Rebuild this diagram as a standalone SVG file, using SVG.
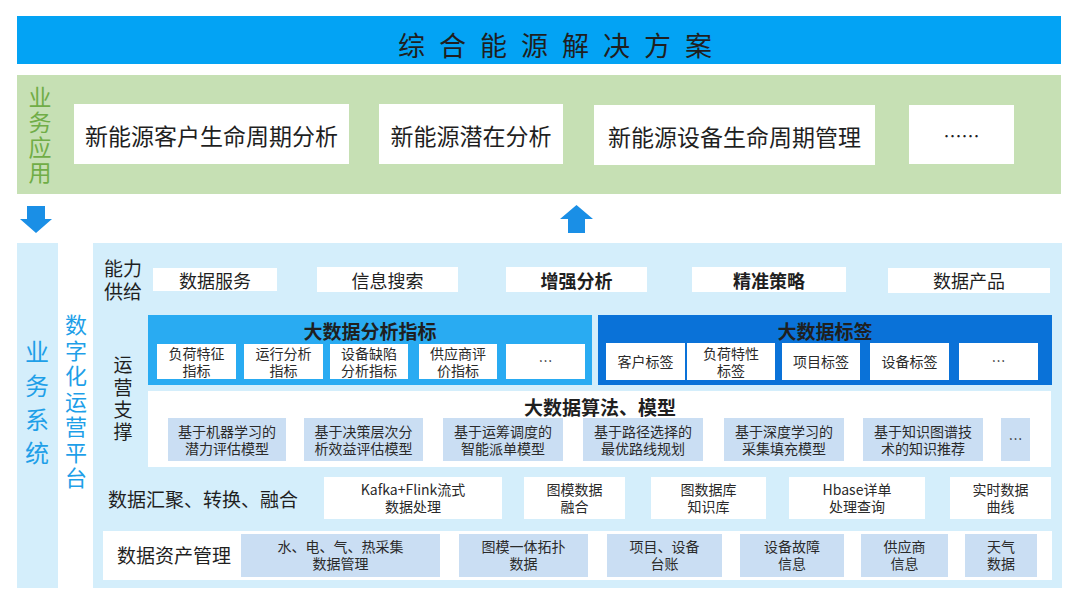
<svg xmlns="http://www.w3.org/2000/svg" width="1080" height="605" viewBox="0 0 1080 605">
<defs>
<style>
text{font-family:"Noto Sans CJK SC","Noto Sans",sans-serif;fill:#1f1f1f;dominant-baseline:central;text-anchor:middle}
.vt{writing-mode:vertical-rl;text-anchor:start}
.wbox{fill:#ffffff}
.lb{fill:#d4eefb}
.sb{fill:#cadef3}
.app{font-size:23px}
.cap{font-size:18px}
.lab{font-size:19px}
.hd{font-size:19px;font-weight:bold}
.sm{font-size:14px;fill:#2a2a2a}
.vg{font-size:23px;fill:#70ad47}
.vb{fill:#1e9fe8}
.arrow{fill:#1a8fe6}
</style>
</defs>
<rect width="1080" height="605" fill="#ffffff"/>

<g id="title">
<rect x="17" y="16" width="1044" height="48" fill="#03a3f4"/>
<text x="398" y="44" style="font-size:27px;text-anchor:start;letter-spacing:14px">综合能源解决方案</text>
</g>

<g id="business-apps">
<rect x="17" y="75" width="1044" height="119" fill="#c6e0b4"/>
<text class="vg vt" x="40" y="85.5" style="letter-spacing:2px">业务应用</text>
</g>
<g id="app1"><rect class="wbox" x="74" y="104" width="275" height="60"/><text class="app" x="211.5" y="135">新能源客户生命周期分析</text></g>
<g id="app2"><rect class="wbox" x="379" y="104" width="184" height="60"/><text class="app" x="471" y="135">新能源潜在分析</text></g>
<g id="app3"><rect class="wbox" x="594" y="105" width="281" height="60"/><text class="app" x="734.5" y="136">新能源设备生命周期管理</text></g>
<g id="app4"><rect class="wbox" x="909" y="105" width="105" height="59"/><text class="app" x="961.5" y="135" style="font-size:18px">……</text></g>

<g id="connectors">
<path class="arrow" d="M27,206 H45 V219 H52 L36,233 L20,219 H27 Z"/>
<path class="arrow" d="M568,233 H585 V219 H593 L576.5,205 L560,219 H568 Z"/>
</g>

<g id="business-system">
<rect class="lb" x="17" y="243" width="41" height="345"/>
<text class="vb vt" x="37" y="340" style="font-size:24px;letter-spacing:9.7px">业务系统</text>
</g>

<g id="digital-platform">
<text class="vb vt" x="76" y="314" style="font-size:22px;letter-spacing:3.5px">数字化运营平台</text>
</g>

<g id="platform-panel">
<rect class="lb" x="93" y="243" width="969" height="345"/>
</g>

<g id="capability">
<text class="lab" x="123" y="267">能力<tspan x="123" dy="23">供给</tspan></text>
</g>
<g id="cap1"><rect class="wbox" x="153" y="268" width="124" height="23"/><text class="cap" x="215" y="280">数据服务</text></g>
<g id="cap2"><rect class="wbox" x="317" y="267" width="141" height="25"/><text class="cap" x="387.5" y="280">信息搜索</text></g>
<g id="cap3"><rect class="wbox" x="506" y="267" width="141" height="25"/><text class="cap" x="576.5" y="280" font-weight="bold">增强分析</text></g>
<g id="cap4"><rect class="wbox" x="692" y="267" width="154" height="25"/><text class="cap" x="769" y="280" font-weight="bold">精准策略</text></g>
<g id="cap5"><rect class="wbox" x="888" y="268" width="162" height="25"/><text class="cap" x="969" y="280">数据产品</text></g>

<g id="ops-support">
<text class="lab vt" x="123" y="355.5" style="letter-spacing:3.3px">运营支撑</text>
</g>

<g id="analysis-indicators">
<rect x="148" y="315" width="444" height="70" fill="#29abf2"/>
<text class="hd" x="370" y="330">大数据分析指标</text>
</g>
<g id="ind1"><rect class="wbox" x="157" y="344" width="79" height="35"/><text class="sm" x="196.5" y="353">负荷特征<tspan x="196.5" dy="17">指标</tspan></text></g>
<g id="ind2"><rect class="wbox" x="244" y="344" width="79" height="35"/><text class="sm" x="283.5" y="353">运行分析<tspan x="283.5" dy="17">指标</tspan></text></g>
<g id="ind3"><rect class="wbox" x="330" y="344" width="78" height="35"/><text class="sm" x="369" y="353">设备缺陷<tspan x="369" dy="17">分析指标</tspan></text></g>
<g id="ind4"><rect class="wbox" x="419" y="344" width="78" height="35"/><text class="sm" x="458" y="353">供应商评<tspan x="458" dy="17">价指标</tspan></text></g>
<g id="ind5"><rect class="wbox" x="506" y="344" width="79" height="35"/><text class="sm" x="545.5" y="360">…</text></g>

<g id="data-tags">
<rect x="598" y="315" width="454" height="70" fill="#0a72d8"/>
<text class="hd" x="825" y="330">大数据标签</text>
</g>
<g id="tag1"><rect class="wbox" x="606" y="343" width="79" height="37"/><text class="sm" x="645.5" y="361">客户标签</text></g>
<g id="tag2"><rect class="wbox" x="687" y="343" width="88" height="37"/><text class="sm" x="731" y="353">负荷特性<tspan x="731" dy="17">标签</tspan></text></g>
<g id="tag3"><rect class="wbox" x="782" y="343" width="78" height="37"/><text class="sm" x="821" y="361">项目标签</text></g>
<g id="tag4"><rect class="wbox" x="870" y="343" width="79" height="37"/><text class="sm" x="909.5" y="361">设备标签</text></g>
<g id="tag5"><rect class="wbox" x="959" y="343" width="79" height="37"/><text class="sm" x="998.5" y="360">…</text></g>

<g id="algorithms">
<rect class="wbox" x="148" y="391" width="903" height="76"/>
<text class="hd" x="600" y="406">大数据算法、模型</text>
</g>
<g id="alg1"><rect class="sb" x="168" y="418" width="118" height="43"/><text class="sm" x="227" y="431">基于机器学习的<tspan x="227" dy="17">潜力评估模型</tspan></text></g>
<g id="alg2"><rect class="sb" x="304" y="418" width="119" height="43"/><text class="sm" x="363.5" y="431">基于决策层次分<tspan x="363.5" dy="17">析效益评估模型</tspan></text></g>
<g id="alg3"><rect class="sb" x="443" y="418" width="120" height="43"/><text class="sm" x="503" y="431">基于运筹调度的<tspan x="503" dy="17">智能派单模型</tspan></text></g>
<g id="alg4"><rect class="sb" x="583" y="418" width="120" height="43"/><text class="sm" x="643" y="431">基于路径选择的<tspan x="643" dy="17">最优路线规划</tspan></text></g>
<g id="alg5"><rect class="sb" x="724" y="418" width="120" height="43"/><text class="sm" x="784" y="431">基于深度学习的<tspan x="784" dy="17">采集填充模型</tspan></text></g>
<g id="alg6"><rect class="sb" x="863" y="418" width="120" height="43"/><text class="sm" x="923" y="431">基于知识图谱技<tspan x="923" dy="17">术的知识推荐</tspan></text></g>
<g id="alg7"><rect class="sb" x="1001" y="418" width="29" height="43"/><text class="sm" x="1015.5" y="438">…</text></g>

<g id="aggregation">
<text class="lab" x="108" y="498" style="text-anchor:start">数据汇聚、转换、融合</text>
</g>
<g id="agg1"><rect class="wbox" x="324" y="477" width="178" height="42"/><text class="sm" x="413" y="489">Kafka+Flink流式<tspan x="413" dy="17">数据处理</tspan></text></g>
<g id="agg2"><rect class="wbox" x="524" y="477" width="101" height="42"/><text class="sm" x="574.5" y="489">图模数据<tspan x="574.5" dy="17">融合</tspan></text></g>
<g id="agg3"><rect class="wbox" x="651" y="477" width="115" height="42"/><text class="sm" x="708.5" y="489">图数据库<tspan x="708.5" dy="17">知识库</tspan></text></g>
<g id="agg4"><rect class="wbox" x="789" y="477" width="136" height="42"/><text class="sm" x="857" y="489">Hbase详单<tspan x="857" dy="17">处理查询</tspan></text></g>
<g id="agg5"><rect class="wbox" x="950" y="477" width="101" height="42"/><text class="sm" x="1000.5" y="489">实时数据<tspan x="1000.5" dy="17">曲线</tspan></text></g>

<g id="asset-mgmt">
<rect class="wbox" x="103" y="531" width="949" height="49"/>
<text class="lab" x="117" y="554" style="text-anchor:start">数据资产管理</text>
</g>
<g id="asset1"><rect class="sb" x="241" y="534" width="199" height="43"/><text class="sm" x="340.5" y="546">水、电、气、热采集<tspan x="340.5" dy="17">数据管理</tspan></text></g>
<g id="asset2"><rect class="sb" x="459" y="534" width="129" height="43"/><text class="sm" x="523.5" y="546">图模一体拓扑<tspan x="523.5" dy="17">数据</tspan></text></g>
<g id="asset3"><rect class="sb" x="607" y="534" width="115" height="43"/><text class="sm" x="664.5" y="546">项目、设备<tspan x="664.5" dy="17">台账</tspan></text></g>
<g id="asset4"><rect class="sb" x="740" y="534" width="104" height="43"/><text class="sm" x="792" y="546">设备故障<tspan x="792" dy="17">信息</tspan></text></g>
<g id="asset5"><rect class="sb" x="861" y="534" width="87" height="43"/><text class="sm" x="904.5" y="546">供应商<tspan x="904.5" dy="17">信息</tspan></text></g>
<g id="asset6"><rect class="sb" x="965" y="534" width="72" height="43"/><text class="sm" x="1001" y="546">天气<tspan x="1001" dy="17">数据</tspan></text></g>
</svg>
